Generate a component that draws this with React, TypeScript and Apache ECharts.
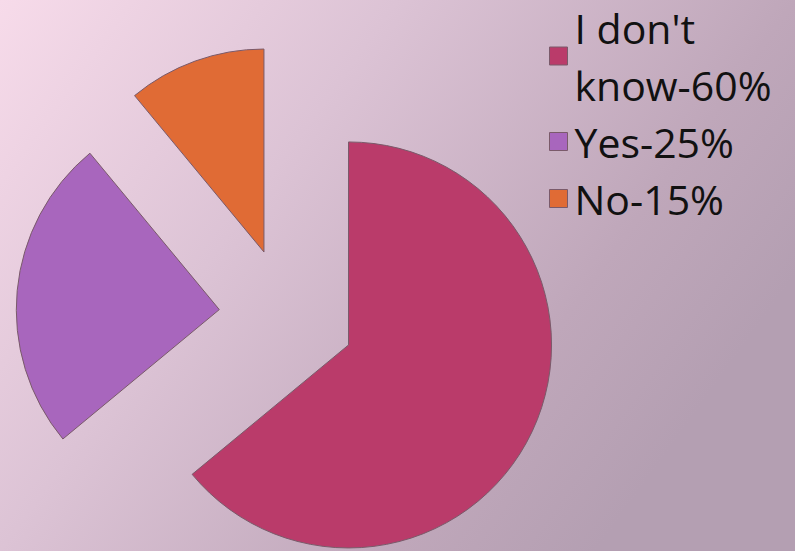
import React, { useEffect, useRef } from "react";
import * as echarts from "echarts";

const categories = ["I don't know-60%", "Yes-25%", "No-15%"];
const values = [64, 25, 11];
const colors = ["#ba3b6a", "#a866bd", "#e06b35"];

export default function App() {
  const ref = useRef<HTMLDivElement>(null);
  useEffect(() => {
    if (!ref.current) return;
    const chart = echarts.init(ref.current, undefined, { renderer: "svg" });
    chart.setOption({
      animation: false,
      backgroundColor: {
        type: "linear",
        x: 0,
        y: 0,
        x2: 1,
        y2: 0.5,
        colorStops: [
          { offset: 0, color: "#f7dbea" },
          { offset: 0.4, color: "#dcc3d5" },
          { offset: 0.8, color: "#bfa7ba" },
          { offset: 1, color: "#b49fb2" },
        ],
      },
      legend: {
        orient: "vertical",
        left: 544,
        top: -6,
        itemWidth: 18,
        itemHeight: 18,
        itemGap: 0,
        icon: "rect",
        selectedMode: false,
        data: categories,
        formatter: (name: string) =>
          name === "I don't know-60%" ? "I don't\nknow-60%" : name,
        textStyle: {
          fontFamily: "Open Sans",
          fontSize: 41,
          lineHeight: 57,
          color: "#111",
          padding: [0, 0, 0, 2],
        },
        itemStyle: { borderColor: "#7a5a6a", borderWidth: 1 },
      },
      series: [
        {
          type: "pie",
          center: [287, 316],
          radius: 203,
          startAngle: 90,
          clockwise: true,
          selectedMode: "multiple",
          selectedOffset: 68,
          label: { show: false },
          labelLine: { show: false },
          emphasis: { disabled: true },
          itemStyle: { borderColor: "#7a5a6a", borderWidth: 1 },
          data: categories.map((c, i) => ({
            name: c,
            value: values[i],
            selected: true,
            itemStyle: { color: colors[i] },
          })),
        },
      ],
    });
    return () => chart.dispose();
  }, []);
  return (
    <div
      ref={ref}
      style={{ position: "fixed", left: 0, top: 0, width: 795, height: 551 }}
    />
  );
}
